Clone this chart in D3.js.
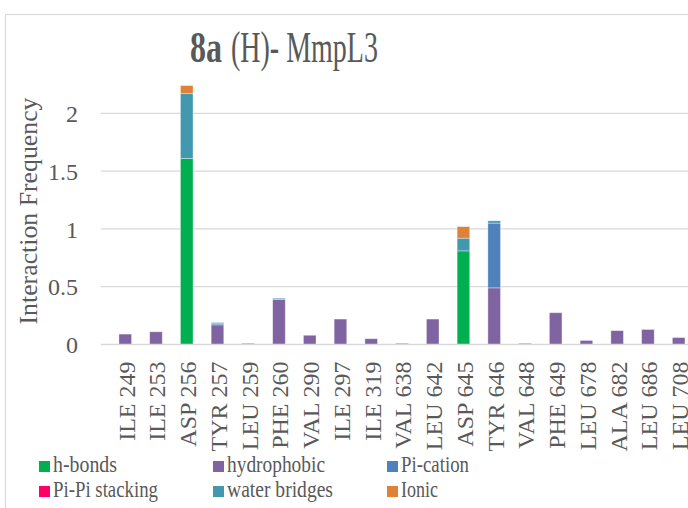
<!DOCTYPE html>
<html><head><meta charset="utf-8">
<script src="https://cdn.jsdelivr.net/npm/d3@7"></script>
<style>body{margin:0;background:#fff;} svg{display:block;} text{font-family:"Liberation Serif","DejaVu Serif",serif;fill:#595959;}</style>
</head><body>
<svg id="c" width="688" height="508"></svg>
<script>
const categories = ["ILE 249","ILE 253","ASP 256","TYR 257","LEU 259","PHE 260","VAL 290","ILE 297","ILE 319","VAL 638","LEU 642","ASP 645","TYR 646","VAL 648","PHE 649","LEU 678","ALA 682","LEU 686","LEU 708"];
const hBonds       = [0,0,1.61,0,0,0,0,0,0,0,0,0.81,0,0,0,0,0,0,0];
const hydrophobic  = [0.09,0.11,0,0.17,0.01,0.39,0.08,0.22,0.05,0.01,0.22,0,0.49,0.01,0.275,0.035,0.12,0.13,0.06];
const piCation     = [0,0,0,0.01,0,0,0,0,0,0,0,0,0.56,0,0,0,0,0,0];
const piPiStacking = [0,0,0,0,0,0,0,0,0,0,0,0,0,0,0,0,0,0,0];
const waterBridges = [0,0,0.56,0.01,0,0.01,0,0,0,0,0,0.11,0.02,0,0,0,0,0,0];
const ionic        = [0,0,0.07,0,0,0,0,0,0,0,0,0.10,0,0,0,0,0,0,0];
const seriesNames  = ["h-bonds","hydrophobic","Pi-cation","Pi-Pi stacking","water bridges","Ionic"];
const seriesColors = ["#00B050","#8064A2","#4F81BD","#FF0066","#4198AF","#DD8238"];
const yTicks = [0,0.5,1,1.5,2];

const seriesValues = [hBonds,hydrophobic,piCation,piPiStacking,waterBridges,ionic];
const rows = categories.map((c,i)=>{const o={cat:c}; seriesNames.forEach((s,j)=>o[s]=seriesValues[j][i]); return o;});
const stacked = d3.stack().keys(seriesNames)(rows);

const svg = d3.select("#c");
// chart frame
svg.append("rect").attr("x",5.5).attr("y",14.5).attr("width",720).attr("height",520)
  .attr("fill","#fff").attr("stroke","#d9d9d9").attr("stroke-width",1.2);

const x = d3.scaleBand().domain(categories).range([100.8, 100.8+19*31.7]).padding(0.59);
const y = d3.scaleLinear().domain([0,2.5]).range([344.5, 344.5-2.5*115.6]);

// gridlines
svg.append("g").selectAll("line").data(yTicks.filter(t=>t>0)).join("line")
  .attr("x1",100.8).attr("x2",705).attr("y1",d=>y(d)).attr("y2",d=>y(d))
  .attr("stroke","#d9d9d9").attr("stroke-width",1.3);

// y axis labels
const yAxis = svg.append("g").attr("transform","translate(78,0)")
  .call(d3.axisLeft(y).tickValues(yTicks).tickSize(0).tickPadding(0).tickFormat(d=>String(d)));
yAxis.select(".domain").remove();
yAxis.selectAll("text").style("font-size","24px").style("font-family","Liberation Serif").attr("fill","#595959").attr("dy","0.34em");

// bars
svg.append("g").selectAll("g").data(stacked).join("g")
  .attr("fill",(d,i)=>seriesColors[i])
  .selectAll("rect").data(d=>d).join("rect")
  .attr("x",d=>x(d.data.cat)).attr("width",x.bandwidth())
  .attr("y",d=>y(d[1])).attr("height",d=>Math.max(0,y(d[0])-y(d[1])))
  .attr("stroke","#ffffff").attr("stroke-opacity",0.45).attr("stroke-width",0.8);

// x axis
const xAxis = svg.append("g").attr("transform","translate(0,344.5)")
  .call(d3.axisBottom(x).tickSize(0).tickPadding(0));
xAxis.select(".domain").attr("stroke","#d9d9d9").attr("stroke-width",1.5).attr("d","M100.8,0H705");
xAxis.selectAll("text").style("font-size","24px").style("font-family","Liberation Serif").attr("fill","#595959")
  .attr("text-anchor","end").attr("transform","rotate(-90)").attr("x",-17).attr("y",1).attr("dy","0.35em");

// y axis title
svg.append("text").attr("transform","translate(37,211) rotate(-90)").attr("text-anchor","middle")
  .style("font-size","25px").attr("textLength",227).attr("lengthAdjust","spacingAndGlyphs").text("Interaction Frequency");

// title (two parts, horizontally condensed by scaling)
function condensed(txt, x0, w, bold){
  const t = svg.append("text").attr("x",0).attr("y",0).style("font-size","45px").text(txt);
  if(bold) t.attr("font-weight","bold");
  const nat = t.node().getComputedTextLength();
  t.attr("transform",`translate(${x0},62) scale(${w/nat},1)`);
}
condensed("8a",190,32,true);
condensed("(H)- MmpL3",231,147,false);

// legend
const legX = [39,213,387], legY = [472,497];
const legW = [64,98,68,105,106,37];
const leg = svg.append("g").selectAll("g").data(seriesNames).join("g")
  .attr("transform",(d,i)=>`translate(${legX[i%3]},${legY[Math.floor(i/3)]})`);
leg.append("rect").attr("x",0).attr("y",-11).attr("width",11).attr("height",11).attr("fill",(d,i)=>seriesColors[i]);
leg.append("text").attr("x",14).attr("y",0).style("font-size","23px")
  .attr("textLength",(d,i)=>legW[i]).attr("lengthAdjust","spacingAndGlyphs").text(d=>d);
</script>
</body></html>
